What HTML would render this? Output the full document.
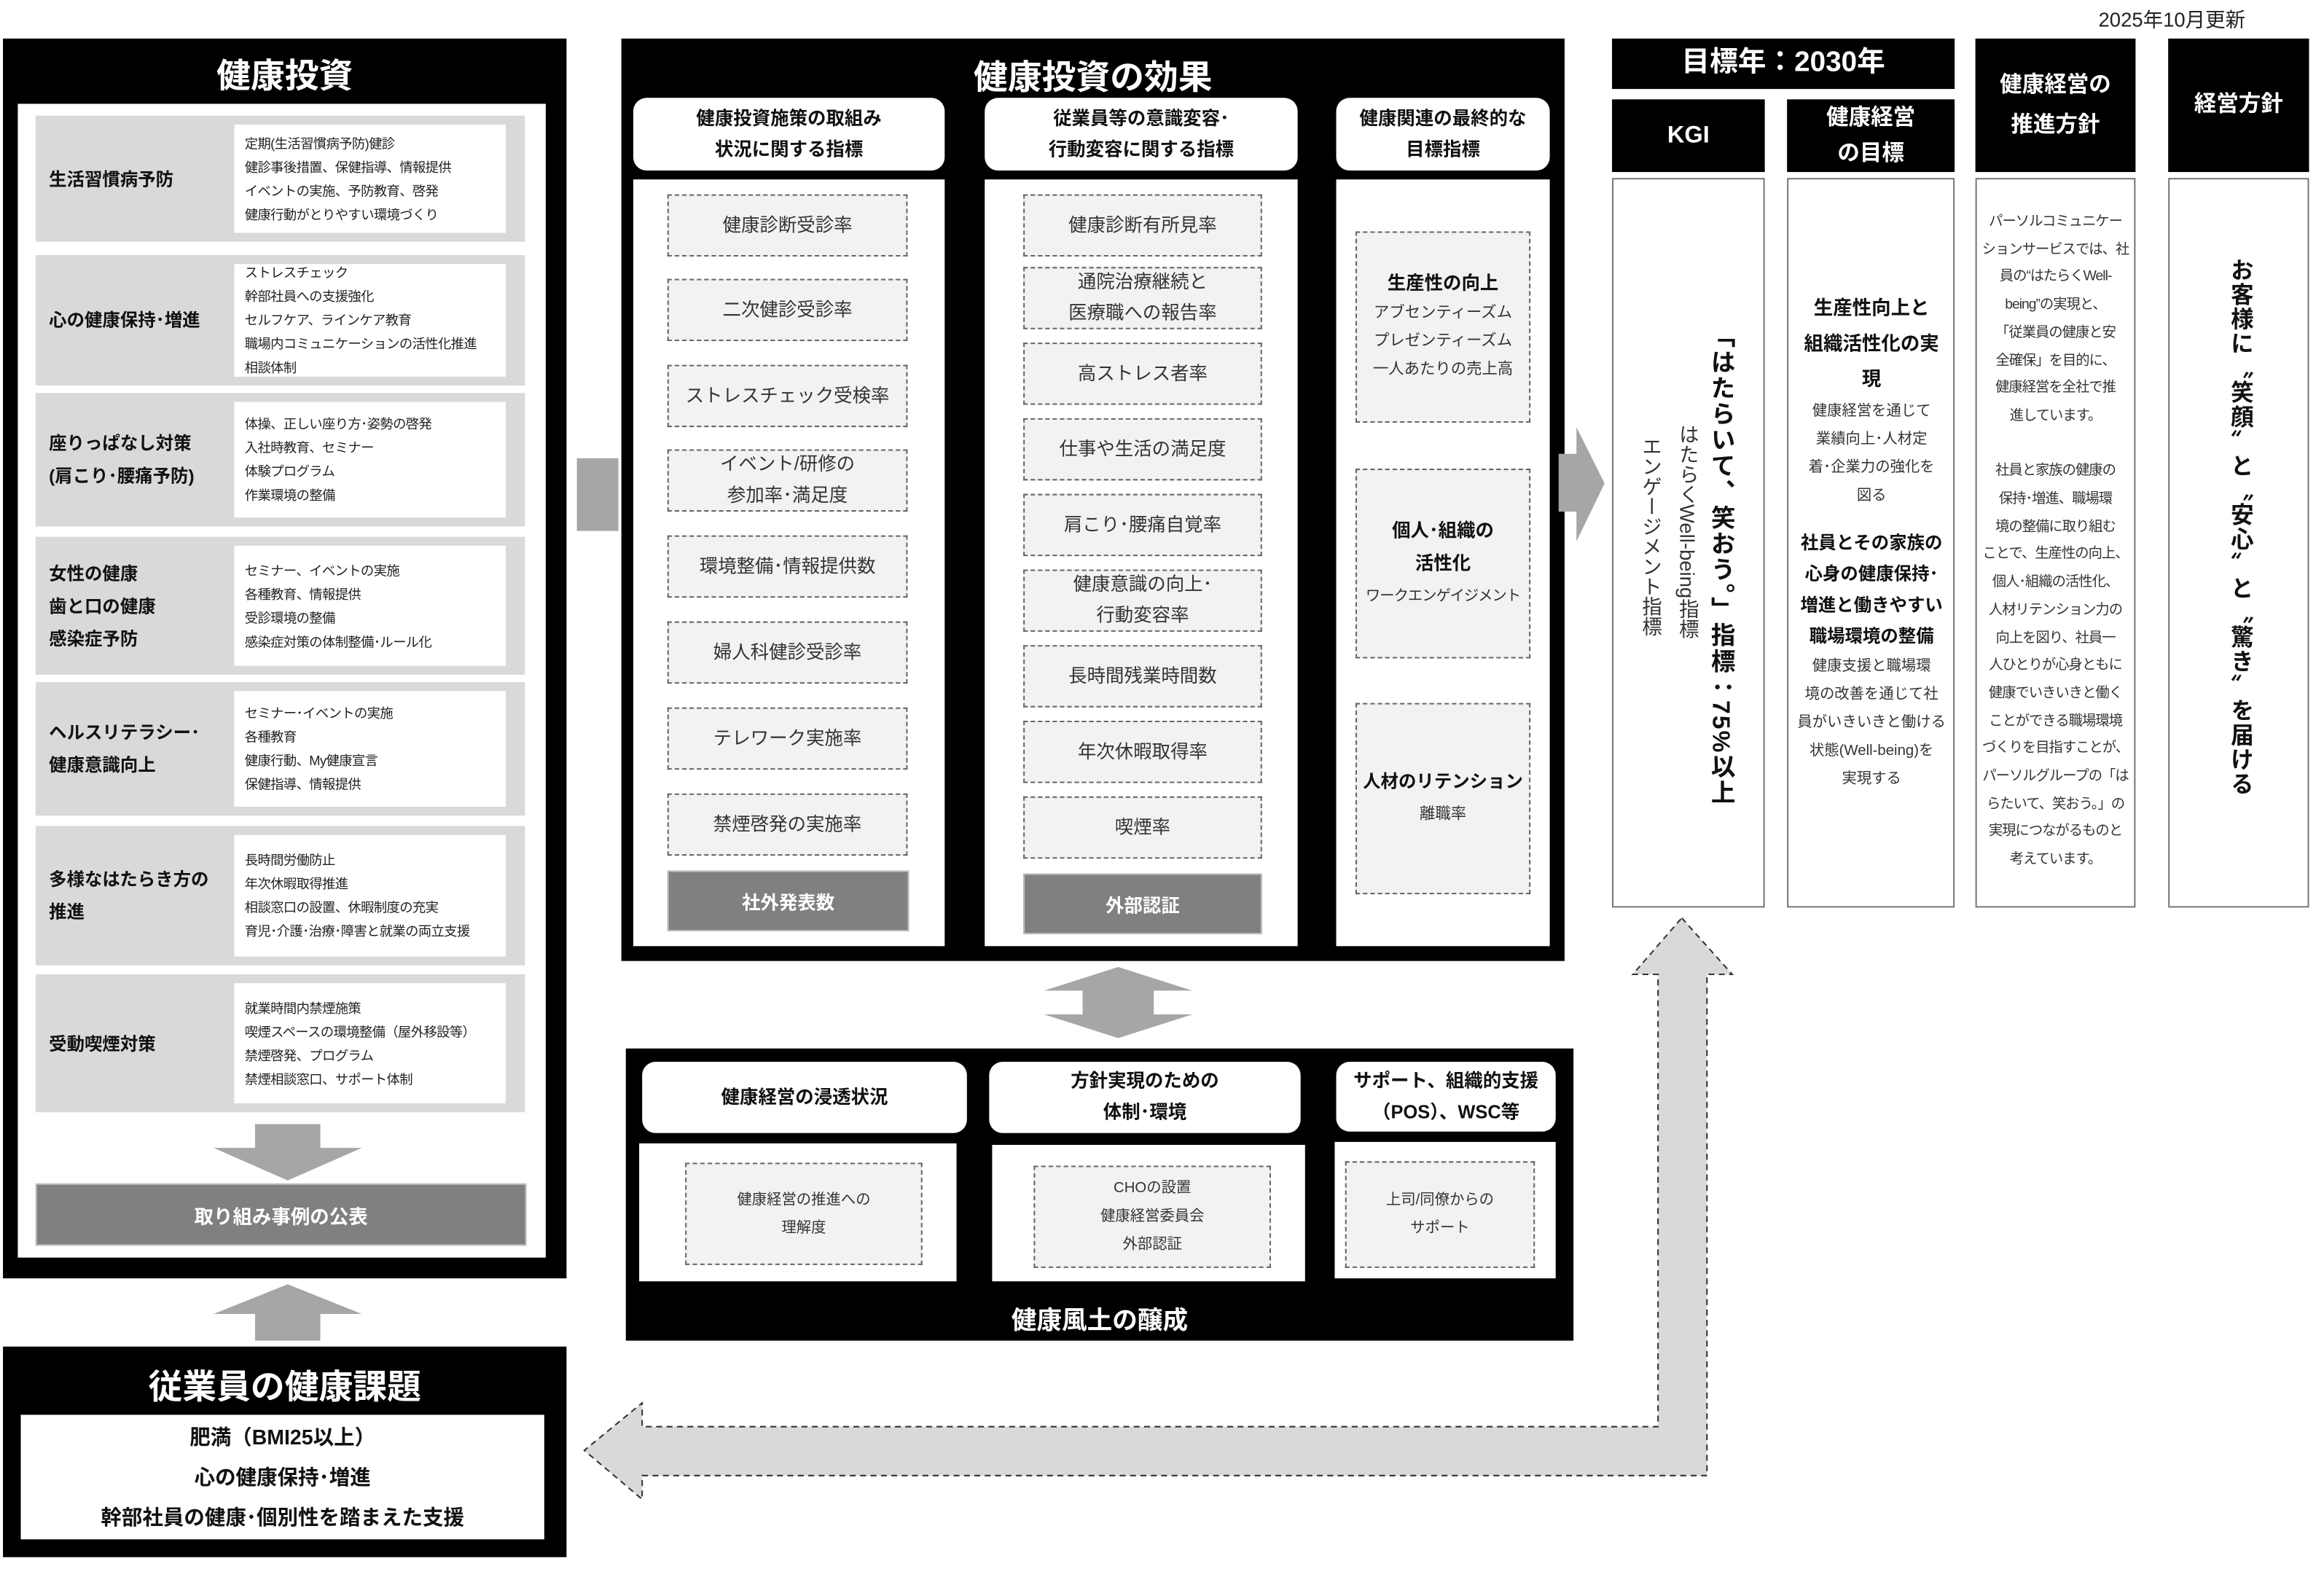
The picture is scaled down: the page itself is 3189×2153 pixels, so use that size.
<!DOCTYPE html>
<html><head><meta charset="utf-8">
<style>
html,body{margin:0;padding:0;background:#fff;width:3189px;height:2153px;overflow:hidden}
#w{position:absolute;left:0;top:0;width:1567px;height:1058px;transform:scale(2.035);transform-origin:0 0;font-family:"Liberation Sans","Noto Sans CJK JP",sans-serif;color:#222}
.a{position:absolute;box-sizing:border-box}
.blk{background:#000}
.wt{background:#fff}
.t{color:#fff;font-weight:bold;text-align:center}
.row{background:#d9d9d9}
.rl{position:absolute;left:9px;font-weight:bold;font-size:12px;line-height:22px;color:#111;display:flex;align-items:center;height:100%;top:0}
.rd{position:absolute;left:134px;right:13px;top:6px;bottom:6px;background:#fff;font-size:9px;line-height:16px;padding:3px 7px;display:flex;flex-direction:column;justify-content:center;color:#222;letter-spacing:-0.3px}
.db{position:absolute;border:1px dashed #666;background:#f2f2f2;display:flex;align-items:center;justify-content:center;text-align:center;font-size:12.5px;line-height:21px;color:#333;box-sizing:border-box}
.gb{position:absolute;background:#808080;color:#fff;font-weight:bold;display:flex;align-items:center;justify-content:center;font-size:12.5px;box-sizing:border-box;border:1px solid #bbb}
.hd{position:absolute;background:#fff;border-radius:9px;display:flex;align-items:center;justify-content:center;text-align:center;font-weight:bold;font-size:12.5px;line-height:21px;color:#111;box-sizing:border-box}
.rb{position:absolute;background:#fff;border:1px solid #777;box-sizing:border-box}
</style></head><body><div id="w">
<div class="a" style="left:1415px;top:2px;font-size:13.5px;color:#222">2025年10月更新</div>

<!-- Left panel -->
<div class="a blk" style="left:2px;top:26px;width:380px;height:836px"></div>
<div class="a t" style="left:2px;top:32px;width:380px;font-size:23px">健康投資</div>
<div class="a wt" style="left:12px;top:70px;width:356px;height:778px"></div>

<div class="a row" style="left:24px;top:78px;width:330px;height:85px"><div class="rl">生活習慣病予防</div><div class="rd"><div>定期(生活習慣病予防)健診</div><div>健診事後措置、保健指導、情報提供</div><div>イベントの実施、予防教育、啓発</div><div>健康行動がとりやすい環境づくり</div></div></div>
<div class="a row" style="left:24px;top:172px;width:330px;height:88px"><div class="rl">心の健康保持･増進</div><div class="rd"><div>ストレスチェック</div><div>幹部社員への支援強化</div><div>セルフケア、ラインケア教育</div><div>職場内コミュニケーションの活性化推進</div><div>相談体制</div></div></div>
<div class="a row" style="left:24px;top:265px;width:330px;height:90px"><div class="rl">座りっぱなし対策<br>(肩こり･腰痛予防)</div><div class="rd"><div>体操、正しい座り方･姿勢の啓発</div><div>入社時教育、セミナー</div><div>体験プログラム</div><div>作業環境の整備</div></div></div>
<div class="a row" style="left:24px;top:362px;width:330px;height:93px"><div class="rl">女性の健康<br>歯と口の健康<br>感染症予防</div><div class="rd"><div>セミナー、イベントの実施</div><div>各種教育、情報提供</div><div>受診環境の整備</div><div>感染症対策の体制整備･ルール化</div></div></div>
<div class="a row" style="left:24px;top:460px;width:330px;height:90px"><div class="rl">ヘルスリテラシー･<br>健康意識向上</div><div class="rd"><div>セミナー･イベントの実施</div><div>各種教育</div><div>健康行動、My健康宣言</div><div>保健指導、情報提供</div></div></div>
<div class="a row" style="left:24px;top:557px;width:330px;height:94px"><div class="rl">多様なはたらき方の<br>推進</div><div class="rd"><div>長時間労働防止</div><div>年次休暇取得推進</div><div>相談窓口の設置、休暇制度の充実</div><div>育児･介護･治療･障害と就業の両立支援</div></div></div>
<div class="a row" style="left:24px;top:657px;width:330px;height:93px"><div class="rl">受動喫煙対策</div><div class="rd"><div>就業時間内禁煙施策</div><div>喫煙スペースの環境整備（屋外移設等）</div><div>禁煙啓発、プログラム</div><div>禁煙相談窓口、サポート体制</div></div></div>
<svg class="a" style="left:140px;top:758px" width="110" height="40"><polygon points="32,0 76,0 76,16 104,16 54,38 4,16 32,16" fill="#a6a6a6"/></svg>
<div class="gb" style="left:24px;top:798px;width:331px;height:42px;font-size:13px">取り組み事例の公表</div>

<svg class="a" style="left:140px;top:866px" width="110" height="40"><polygon points="54,0 104,20 76,20 76,38 32,38 32,20 4,20" fill="#a6a6a6"/></svg>

<div class="a blk" style="left:2px;top:908px;width:380px;height:142px"></div>
<div class="a t" style="left:2px;top:916px;width:380px;font-size:23px">従業員の健康課題</div>
<div class="a wt" style="left:14px;top:954px;width:353px;height:84px;text-align:center;font-weight:bold;font-size:14px;line-height:27px;color:#111;padding-top:2px">肥満（BMI25以上）<br>心の健康保持･増進<br>幹部社員の健康･個別性を踏まえた支援</div>

<div class="a" style="left:389px;top:309px;width:28px;height:49px;background:#a6a6a6"></div>

<!-- Middle panel -->
<div class="a blk" style="left:419px;top:26px;width:636px;height:622px"></div>
<div class="a t" style="left:419px;top:33px;width:636px;font-size:23px">健康投資の効果</div>
<div class="hd" style="left:427px;top:66px;width:210px;height:49px">健康投資施策の取組み<br>状況に関する指標</div>
<div class="hd" style="left:664px;top:66px;width:211px;height:49px">従業員等の意識変容･<br>行動変容に関する指標</div>
<div class="hd" style="left:901px;top:66px;width:144px;height:49px">健康関連の最終的な<br>目標指標</div>
<div class="a wt" style="left:427px;top:121px;width:210px;height:517px"></div>
<div class="a wt" style="left:664px;top:121px;width:211px;height:517px"></div>
<div class="a wt" style="left:901px;top:121px;width:144px;height:517px"></div>

<div class="db" style="left:450px;top:131px;width:162px;height:42px">健康診断受診率</div>
<div class="db" style="left:450px;top:188px;width:162px;height:42px">二次健診受診率</div>
<div class="db" style="left:450px;top:246px;width:162px;height:42px">ストレスチェック受検率</div>
<div class="db" style="left:450px;top:303px;width:162px;height:42px">イベント/研修の<br>参加率･満足度</div>
<div class="db" style="left:450px;top:361px;width:162px;height:42px">環境整備･情報提供数</div>
<div class="db" style="left:450px;top:419px;width:162px;height:42px">婦人科健診受診率</div>
<div class="db" style="left:450px;top:477px;width:162px;height:42px">テレワーク実施率</div>
<div class="db" style="left:450px;top:535px;width:162px;height:42px">禁煙啓発の実施率</div>
<div class="gb" style="left:450px;top:587px;width:163px;height:41px">社外発表数</div>

<div class="db" style="left:690px;top:131px;width:161px;height:42px">健康診断有所見率</div>
<div class="db" style="left:690px;top:180px;width:161px;height:42px">通院治療継続と<br>医療職への報告率</div>
<div class="db" style="left:690px;top:231px;width:161px;height:42px">高ストレス者率</div>
<div class="db" style="left:690px;top:282px;width:161px;height:42px">仕事や生活の満足度</div>
<div class="db" style="left:690px;top:333px;width:161px;height:42px">肩こり･腰痛自覚率</div>
<div class="db" style="left:690px;top:384px;width:161px;height:42px">健康意識の向上･<br>行動変容率</div>
<div class="db" style="left:690px;top:435px;width:161px;height:42px">長時間残業時間数</div>
<div class="db" style="left:690px;top:486px;width:161px;height:42px">年次休暇取得率</div>
<div class="db" style="left:690px;top:537px;width:161px;height:42px">喫煙率</div>
<div class="gb" style="left:690px;top:589px;width:161px;height:41px">外部認証</div>

<div class="db" style="left:914px;top:156px;width:118px;height:129px;font-size:10.5px;line-height:19px"><div><b style="font-size:12.5px;color:#111">生産性の向上</b><br>アブセンティーズム<br>プレゼンティーズム<br>一人あたりの売上高</div></div>
<div class="db" style="left:914px;top:316px;width:118px;height:128px;font-size:10px;line-height:21px;letter-spacing:-0.5px"><div><b style="font-size:12.5px;color:#111;letter-spacing:0">個人･組織の<br>活性化</b><br>ワークエンゲイジメント</div></div>
<div class="db" style="left:914px;top:474px;width:118px;height:129px;font-size:10.5px;line-height:21px"><div><b style="font-size:12px;color:#111">人材のリテンション</b><br>離職率</div></div>

<svg class="a" style="left:700px;top:652px" width="110" height="50"><polygon points="54,0 104,16 78,16 78,32 104,32 54,48 4,32 30,32 30,16 4,16" fill="#a6a6a6"/></svg>

<!-- Bottom middle -->
<div class="a blk" style="left:422px;top:707px;width:639px;height:197px"></div>
<div class="hd" style="left:433px;top:716px;width:219px;height:48px">健康経営の浸透状況</div>
<div class="hd" style="left:667px;top:716px;width:210px;height:48px">方針実現のための<br>体制･環境</div>
<div class="hd" style="left:901px;top:716px;width:148px;height:47px">サポート、組織的支援<br>（POS）、WSC等</div>
<div class="a wt" style="left:431px;top:771px;width:214px;height:93px"></div>
<div class="a wt" style="left:669px;top:772px;width:211px;height:92px"></div>
<div class="a wt" style="left:900px;top:770px;width:149px;height:92px"></div>
<div class="db" style="left:462px;top:784px;width:160px;height:69px;font-size:10px;line-height:19px">健康経営の推進への<br>理解度</div>
<div class="db" style="left:697px;top:786px;width:160px;height:69px;font-size:10px;line-height:19px">CHOの設置<br>健康経営委員会<br>外部認証</div>
<div class="db" style="left:907px;top:783px;width:128px;height:72px;font-size:10px;line-height:19px">上司/同僚からの<br>サポート</div>
<div class="a t" style="left:422px;top:876px;width:639px;font-size:17px">健康風土の醸成</div>

<!-- big L arrow -->
<svg class="a" style="left:0;top:0" width="1567" height="1058"><polygon points="1134,619 1168,657 1151,657 1151,995 433,995 433,1011 394,978 433,946 433,962 1118,962 1118,657 1101,657" fill="#d9d9d9" stroke="#333" stroke-width="1" stroke-dasharray="4,3"/>
<polygon points="1051,306 1063,306 1063,288 1082,326 1063,365 1063,345 1051,345" fill="#a6a6a6"/></svg>

<!-- Right section -->
<div class="a blk t" style="left:1087px;top:26px;width:231px;height:34px;font-size:19px;line-height:34px">目標年：2030年</div>
<div class="a blk t" style="left:1087px;top:67px;width:103px;height:49px;font-size:16px;line-height:49px">KGI</div>
<div class="a blk t" style="left:1205px;top:67px;width:113px;height:49px;font-size:15px;line-height:24px;padding-top:1px">健康経営<br>の目標</div>
<div class="a blk t" style="left:1332px;top:26px;width:108px;height:90px;font-size:15px;line-height:27px;padding-top:18px">健康経営の<br>推進方針</div>
<div class="a blk t" style="left:1462px;top:26px;width:95px;height:90px;font-size:15px;line-height:90px">経営方針</div>

<div class="rb" style="left:1087px;top:120px;width:103px;height:492px"></div>
<div class="rb" style="left:1205px;top:120px;width:113px;height:492px"></div>
<div class="rb" style="left:1332px;top:120px;width:108px;height:492px"></div>
<div class="rb" style="left:1462px;top:120px;width:95px;height:492px"></div>

<div class="a" style="left:1148px;top:218px;writing-mode:vertical-rl;font-weight:bold;font-size:16.5px;letter-spacing:1px;color:#111">「はたらいて、笑おう。」指標：75%以上</div>
<div class="a" style="left:1127px;top:286px;writing-mode:vertical-rl;font-size:13.5px;color:#333">はたらくWell-being指標</div>
<div class="a" style="left:1102px;top:294px;writing-mode:vertical-rl;font-size:13.5px;color:#333">エンゲージメント指標</div>

<div class="a" style="left:1207px;top:196px;width:110px;text-align:center;color:#333;font-size:10px;line-height:19px">
<div style="font-weight:bold;font-size:13px;line-height:24px;color:#111">生産性向上と<br>組織活性化の実<br>現</div>
<div>健康経営を通じて<br>業績向上･人材定<br>着･企業力の強化を<br>図る</div>
<div style="font-weight:bold;font-size:12px;line-height:21px;color:#111;margin-top:12px">社員とその家族の<br>心身の健康保持･<br>増進と働きやすい<br>職場環境の整備</div>
<div>健康支援と職場環<br>境の改善を通じて社<br>員がいきいきと働ける<br>状態(Well-being)を<br>実現する</div>
</div>

<div class="a" style="left:1333px;top:141px;width:106px;text-align:center;color:#333;font-size:9.5px;line-height:18.7px;letter-spacing:-0.5px;white-space:nowrap">パーソルコミュニケー<br>ションサービスでは、社<br>員の“はたらくWell-<br>being”の実現と、<br>「従業員の健康と安<br>全確保」を目的に、<br>健康経営を全社で推<br>進しています。<br><br>社員と家族の健康の<br>保持･増進、職場環<br>境の整備に取り組む<br>ことで、生産性の向上、<br>個人･組織の活性化、<br>人材リテンション力の<br>向上を図り、社員一<br>人ひとりが心身ともに<br>健康でいきいきと働く<br>ことができる職場環境<br>づくりを目指すことが、<br>パーソルグループの「は<br>らたいて、笑おう。」の<br>実現につながるものと<br>考えています。</div>

<div class="a" style="left:1499px;top:174px;writing-mode:vertical-rl;font-weight:bold;font-size:15.5px;letter-spacing:1px;color:#111">お客様に〝笑顔〟と〝安心〟と〝驚き〟を届ける</div>
</div></body></html>
